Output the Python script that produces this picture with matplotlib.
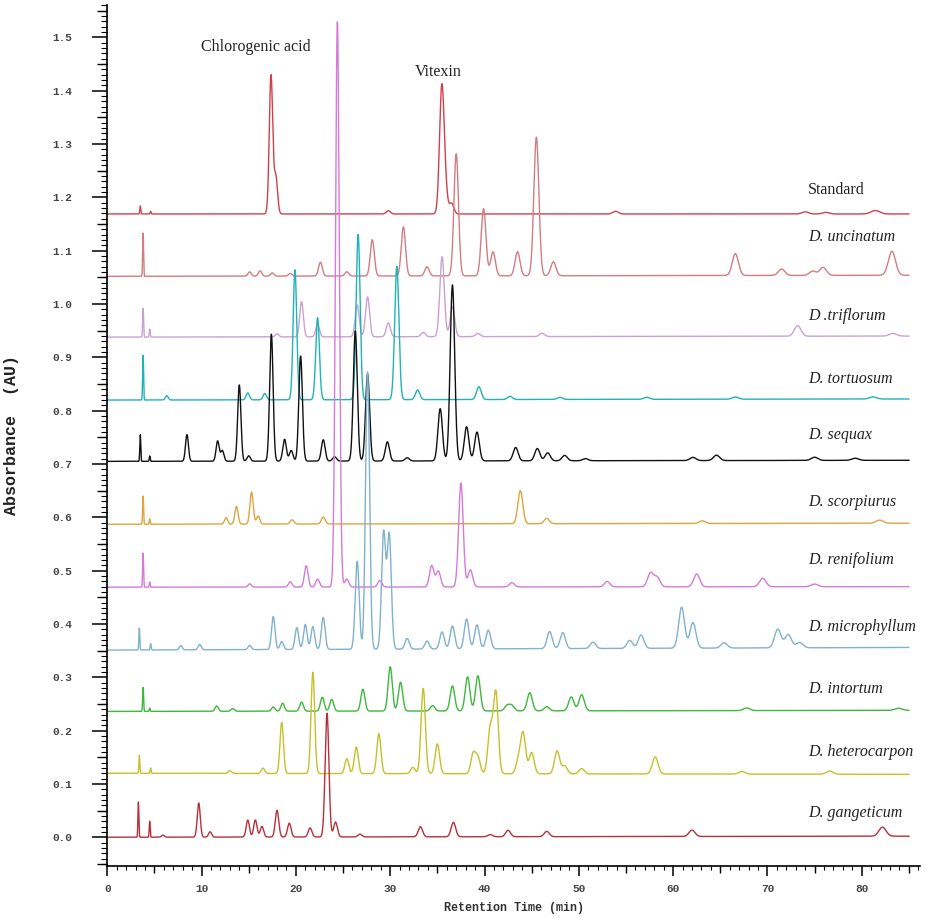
import numpy as np
import matplotlib
matplotlib.use("Agg")
import matplotlib.pyplot as plt
from matplotlib.ticker import MultipleLocator

# Retention times (min) and peak heights (AU)
std_rt = [3.5, 4.6, 17.36, 17.87, 29.8, 35.46, 35.8, 36.5, 53.9, 74.0, 76.2, 81.2, 81.7]
std_h = [0.015, 0.005, 0.26, 0.07, 0.006, 0.225, 0.05, 0.02, 0.005, 0.004, 0.003, 0.004, 0.004]

unc_rt = [3.8, 15.1, 16.2, 17.5, 19.4, 22.6, 25.4, 28.1, 31.4, 33.9, 37.0, 39.9, 40.9,
          43.5, 45.5, 47.3, 66.6, 71.5, 74.8, 75.9, 83.2]
unc_h = [0.081, 0.008, 0.01, 0.006, 0.005, 0.026, 0.008, 0.068, 0.092, 0.017, 0.229, 0.126,
         0.045, 0.045, 0.26, 0.026, 0.041, 0.012, 0.008, 0.015, 0.045]

tri_rt = [3.8, 4.5, 18.0, 20.6, 22.3, 26.5, 27.6, 29.8, 33.5, 35.5, 36.6, 39.3, 46.1, 73.2, 83.3]
tri_h = [0.054, 0.015, 0.006, 0.066, 0.023, 0.06, 0.075, 0.026, 0.008, 0.15, 0.056, 0.006,
         0.006, 0.02, 0.005]

tor_rt = [3.8, 6.3, 14.9, 16.7, 19.9, 22.3, 26.6, 30.7, 32.9, 39.4, 42.7, 48.0, 57.2, 66.6, 81.2]
tor_h = [0.084, 0.008, 0.013, 0.012, 0.244, 0.154, 0.31, 0.25, 0.018, 0.024, 0.006, 0.004,
         0.004, 0.004, 0.004]

seq_rt = [3.5, 4.5, 8.45, 11.7, 12.2, 14.0, 15.0, 17.4, 18.8, 19.5, 20.5, 22.9, 24.1, 26.3,
          27.6, 29.7, 31.8, 35.3, 36.6, 38.1, 39.2, 43.3, 45.6, 46.7, 48.5, 50.7, 62.1, 64.6,
          75.0, 79.3]
seq_h = [0.05, 0.01, 0.05, 0.038, 0.02, 0.143, 0.01, 0.238, 0.041, 0.02, 0.197, 0.04, 0.008,
         0.244, 0.163, 0.036, 0.006, 0.098, 0.33, 0.064, 0.054, 0.025, 0.023, 0.015, 0.01,
         0.004, 0.006, 0.01, 0.006, 0.004]

sco_rt = [3.8, 4.5, 12.6, 13.7, 15.3, 16.0, 19.6, 22.9, 43.8, 46.6, 63.1, 81.9]
sco_h = [0.053, 0.01, 0.012, 0.033, 0.06, 0.015, 0.008, 0.013, 0.062, 0.01, 0.005, 0.006]

ren_rt = [3.8, 4.5, 15.1, 19.4, 21.1, 22.3, 24.4, 25.4, 28.9, 34.4, 35.1, 37.5, 38.5, 42.9,
          53.0, 57.6, 58.3, 62.5, 69.5, 75.0]
ren_h = [0.064, 0.01, 0.006, 0.01, 0.04, 0.015, 1.06, 0.015, 0.012, 0.04, 0.03, 0.195, 0.032,
         0.008, 0.01, 0.026, 0.018, 0.024, 0.016, 0.005]

mic_rt = [3.4, 4.6, 7.8, 9.8, 15.1, 17.6, 18.5, 20.1, 21.0, 21.8, 22.9, 26.5, 27.6, 29.3,
          29.9, 31.8, 33.9, 35.5, 36.6, 38.1, 39.2, 40.4, 46.9, 48.3, 51.5, 55.4, 56.6, 60.9,
          62.1, 65.4, 71.1, 72.2, 73.4]
mic_h = [0.041, 0.012, 0.008, 0.01, 0.008, 0.062, 0.015, 0.041, 0.047, 0.043, 0.06, 0.165,
         0.52, 0.218, 0.214, 0.02, 0.015, 0.032, 0.043, 0.056, 0.045, 0.035, 0.032, 0.03,
         0.012, 0.015, 0.025, 0.077, 0.048, 0.01, 0.035, 0.025, 0.01]

int_rt = [3.8, 4.5, 11.6, 13.3, 17.6, 18.6, 20.6, 22.8, 23.8, 27.1, 30.0, 31.1, 34.5, 36.6,
          38.2, 39.3, 42.4, 42.9, 44.8, 46.6, 49.2, 50.3, 67.8, 83.9]
int_h = [0.045, 0.006, 0.01, 0.005, 0.008, 0.015, 0.017, 0.026, 0.022, 0.041, 0.083, 0.054,
         0.01, 0.047, 0.064, 0.066, 0.01, 0.01, 0.034, 0.008, 0.026, 0.03, 0.005, 0.004]

het_rt = [3.4, 4.6, 13.0, 16.5, 18.5, 21.8, 25.4, 26.4, 28.8, 32.4, 33.5, 35.0, 38.8, 39.3,
          40.6, 41.2, 43.6, 44.1, 45.0, 47.7, 48.5, 50.3, 58.1, 67.3, 76.6]
het_h = [0.034, 0.01, 0.005, 0.01, 0.096, 0.19, 0.028, 0.05, 0.075, 0.012, 0.16, 0.056, 0.037,
         0.03, 0.084, 0.152, 0.025, 0.075, 0.04, 0.043, 0.015, 0.01, 0.032, 0.005, 0.006]

gan_rt = [3.3, 4.5, 5.9, 9.7, 10.9, 14.9, 15.7, 16.4, 18.0, 19.3, 21.5, 23.3, 24.2, 26.8,
          33.2, 36.7, 40.6, 42.5, 46.6, 62.0, 82.2]
gan_h = [0.066, 0.03, 0.004, 0.064, 0.01, 0.032, 0.032, 0.02, 0.05, 0.026, 0.017, 0.232, 0.028,
         0.005, 0.019, 0.027, 0.004, 0.012, 0.01, 0.012, 0.017]

names = ["Standard", "D. uncinatum", "D .triflorum", "D. tortuosum", "D. sequax",
         "D. scorpiurus", "D. renifolium", "D. microphyllum", "D. intortum",
         "D. heterocarpon", "D. gangeticum"]
baseline_start = [1.169, 1.052, 0.938, 0.820, 0.705, 0.587, 0.469, 0.351, 0.236, 0.120, 0.000]
baseline_end = [1.169, 1.054, 0.940, 0.822, 0.707, 0.589, 0.470, 0.356, 0.238, 0.118, 0.002]
label_y = [1.214, 1.126, 0.977, 0.859, 0.754, 0.629, 0.520, 0.394, 0.278, 0.159, 0.045]
colors = ["#d2404c", "#d47c82", "#c9a2d2", "#1fb3b8", "#111111", "#e0a43e",
          "#d67ad8", "#80b2ce", "#3cb83c", "#c8c02a", "#b8303c"]
all_rt = [std_rt, unc_rt, tri_rt, tor_rt, seq_rt, sco_rt, ren_rt, mic_rt, int_rt, het_rt, gan_rt]
all_h = [std_h, unc_h, tri_h, tor_h, seq_h, sco_h, ren_h, mic_h, int_h, het_h, gan_h]

t = np.linspace(0, 85, 9000)


def peak_width(rt):
    # early injection spikes are very narrow, peaks broaden with time
    return 0.05 if rt < 5 else 0.13 + 0.003 * rt


def chromatogram(rts, hs, b0, b1):
    y = b0 + (b1 - b0) * t / t[-1]
    for rt, h in zip(rts, hs):
        s = peak_width(rt)
        y = y + h * np.exp(-0.5 * ((t - rt) / s) ** 2)
    return y


fig = plt.figure(figsize=(9.28, 9.18), dpi=100)
ax = fig.add_axes([0.1156, 0.0566, 0.876, 0.938])

for i in range(len(names)):
    y = chromatogram(all_rt[i], all_h[i], baseline_start[i], baseline_end[i])
    ax.plot(t, y, color=colors[i], linewidth=1.0)
    ax.text(74.3, label_y[i], names[i], fontsize=11.5, family="Liberation Serif",
            style="normal" if i == 0 else "italic", ha="left", va="center", color="#222222")

ax.text(15.7, 1.482, "Chlorogenic acid", fontsize=11.5, family="Liberation Serif",
        ha="center", va="center", color="#222222")
ax.text(35.1, 1.435, "Vitexin", fontsize=11.5, family="Liberation Serif",
        ha="center", va="center", color="#222222")

ax.set_xlim(0, 86.2)
ax.set_ylim(-0.054, 1.561)
ax.spines["top"].set_visible(False)
ax.spines["right"].set_visible(False)
ax.spines["left"].set_linewidth(1.2)
ax.spines["bottom"].set_linewidth(1.2)

ax.xaxis.set_major_locator(MultipleLocator(10))
ax.xaxis.set_minor_locator(MultipleLocator(1))
ax.yaxis.set_major_locator(MultipleLocator(0.1))
ax.yaxis.set_minor_locator(MultipleLocator(0.01))
ax.tick_params(axis="y", which="major", length=11, width=1.1, pad=14)
ax.tick_params(axis="y", which="minor", length=4, width=0.8)
ax.tick_params(axis="x", which="major", length=7, width=1.1, pad=6)
ax.tick_params(axis="x", which="minor", length=3, width=0.8)
ax.set_yticks(np.round(np.arange(0, 1.51, 0.1), 1))
ax.set_yticklabels([f"{v:.1f}" for v in np.arange(0, 1.51, 0.1)])

# medium ticks at the half intervals
secy = ax.secondary_yaxis("left")
secy.set_yticks(np.arange(-0.05, 1.56, 0.1))
secy.set_yticklabels([])
secy.tick_params(length=7, width=1.0)
secy.spines["left"].set_visible(False)
secx = ax.secondary_xaxis("bottom")
secx.set_xticks(np.arange(5, 86, 10))
secx.set_xticklabels([])
secx.tick_params(length=5, width=1.0)
secx.spines["bottom"].set_visible(False)

for lab in ax.get_xticklabels() + ax.get_yticklabels():
    lab.set_family("Liberation Mono")
    lab.set_fontsize(8)
    lab.set_fontweight("bold")
    lab.set_color("#444444")

ax.set_xlabel("Retention Time (min)", family="Liberation Mono", fontweight="bold",
              fontsize=8.5, labelpad=6, color="#333333")
ax.set_ylabel("Absorbance  (AU)", family="Liberation Mono", fontweight="bold",
              fontsize=12, labelpad=24, color="#222222")

fig.savefig("out.png", dpi=100)
